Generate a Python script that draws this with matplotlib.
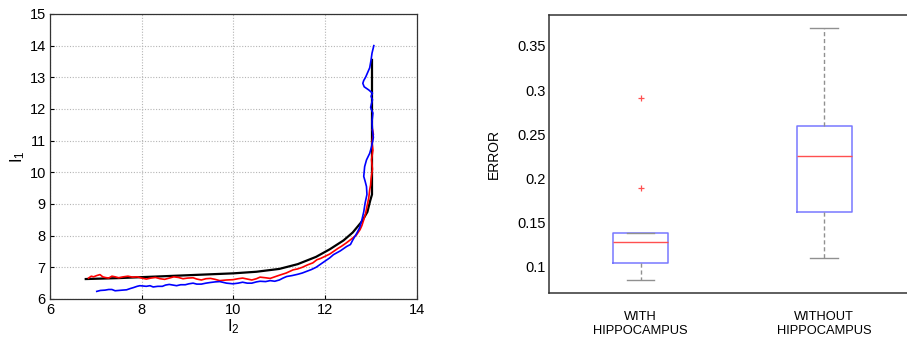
import numpy as np
import matplotlib.pyplot as plt

plt.rcParams['font.family'] = ['Liberation Sans', 'DejaVu Sans']

# trajectories in the (I2, I1) plane
ref_i2 = [6.78, 7.5, 8.0, 8.5, 9.0, 9.5, 10.0, 10.5, 11.0, 11.4, 11.8, 12.1,
          12.4, 12.6, 12.8, 12.92, 12.98, 13.02, 13.02]
ref_i1 = [6.63, 6.66, 6.69, 6.72, 6.75, 6.78, 6.81, 6.86, 6.95, 7.1, 7.33, 7.57,
          7.85, 8.1, 8.45, 8.75, 9.1, 9.3, 13.55]

with_i2 = [6.84, 6.9, 6.95, 7.02, 7.09, 7.15, 7.2, 7.28, 7.35, 7.42, 7.5, 7.6,
           7.7, 7.8, 7.9, 8.0, 8.1, 8.2, 8.3, 8.4, 8.5, 8.6, 8.7, 8.8, 8.9,
           9.0, 9.12, 9.2, 9.3, 9.4, 9.5, 9.6, 9.7, 9.85, 9.99, 10.1, 10.2,
           10.3, 10.4, 10.5, 10.58, 10.7, 10.8, 10.9, 11.0, 11.15, 11.3, 11.4,
           11.5, 11.62, 11.73, 11.82, 11.9, 12.0, 12.1, 12.18, 12.28, 12.35,
           12.45, 12.55, 12.62, 12.68, 12.76, 12.8, 12.84, 12.88, 12.91, 12.95,
           12.97, 12.99, 13.0, 13.03, 13.01, 13.04, 13.02, 13.05, 13.03]
with_i1 = [6.66, 6.72, 6.7, 6.74, 6.77, 6.7, 6.68, 6.66, 6.72, 6.7, 6.67, 6.7,
           6.72, 6.69, 6.7, 6.66, 6.63, 6.66, 6.68, 6.64, 6.62, 6.66, 6.7, 6.68,
           6.64, 6.66, 6.67, 6.63, 6.6, 6.64, 6.65, 6.62, 6.58, 6.6, 6.61, 6.64,
           6.66, 6.63, 6.6, 6.64, 6.69, 6.67, 6.65, 6.7, 6.75, 6.82, 6.92, 6.95,
           7.0, 7.08, 7.14, 7.24, 7.28, 7.35, 7.42, 7.5, 7.6, 7.66, 7.76, 7.87,
           7.95, 8.02, 8.19, 8.32, 8.5, 8.7, 8.92, 9.2, 9.45, 9.6, 9.8, 10.1,
           10.4, 10.7, 10.95, 11.2, 11.35]

free_i2 = [7.02, 7.1, 7.2, 7.28, 7.35, 7.42, 7.5, 7.58, 7.67, 7.75, 7.82, 7.9,
           7.96, 8.03, 8.1, 8.18, 8.25, 8.35, 8.45, 8.52, 8.6, 8.68, 8.76, 8.85,
           8.95, 9.03, 9.12, 9.2, 9.3, 9.4, 9.49, 9.6, 9.7, 9.85, 9.99, 10.1,
           10.2, 10.3, 10.4, 10.5, 10.58, 10.7, 10.8, 10.9, 11.0, 11.08, 11.16,
           11.28, 11.4, 11.5, 11.59, 11.7, 11.8, 11.88, 12.0, 12.1, 12.18,
           12.33, 12.47, 12.55, 12.6, 12.69, 12.75, 12.8, 12.84, 12.87, 12.91,
           12.9, 12.87, 12.84, 12.86, 12.9, 12.97, 13.01, 13.05, 13.03, 13.02,
           13.04, 12.99, 13.03, 13.0, 13.03, 12.95, 12.85, 12.82, 12.84, 12.88,
           12.97, 13.0, 13.02, 13.06]
free_i1 = [6.24, 6.27, 6.28, 6.3, 6.3, 6.26, 6.27, 6.28, 6.29, 6.33, 6.36, 6.4,
           6.42, 6.41, 6.4, 6.42, 6.38, 6.4, 6.4, 6.44, 6.46, 6.44, 6.42, 6.45,
           6.45, 6.48, 6.5, 6.47, 6.47, 6.5, 6.52, 6.54, 6.55, 6.5, 6.48, 6.5,
           6.53, 6.5, 6.5, 6.54, 6.56, 6.55, 6.58, 6.56, 6.6, 6.66, 6.71, 6.74,
           6.78, 6.82, 6.87, 6.93, 7.0, 7.08, 7.2, 7.3, 7.4, 7.52, 7.66, 7.72,
           7.86, 8.08, 8.25, 8.5, 8.75, 9.03, 9.3, 9.55, 9.72, 9.87, 10.18,
           10.39, 10.6, 10.81, 11.1, 11.34, 11.6, 11.87, 12.05, 12.29, 12.4,
           12.5, 12.6, 12.7, 12.81, 12.9, 13.0, 13.3, 13.55, 13.76, 14.0]

# boxplot summaries of the error
groups = ['WITH\nHIPPOCAMPUS', 'WITHOUT\nHIPPOCAMPUS']
whislo = [0.0846, 0.1095]
q1 = [0.1045, 0.162]
med = [0.128, 0.2252]
q3 = [0.1385, 0.2588]
whishi = [0.1385, 0.3697]
fliers = [[0.291, 0.189], []]

fig = plt.figure(figsize=(9.07, 3.43), dpi=100)

ax1 = fig.add_axes([0.0551, 0.1283, 0.4046, 0.831])
ax1.plot(ref_i2, ref_i1, color='black', lw=1.6)
ax1.plot(with_i2, with_i1, color='red', lw=1.2)
ax1.plot(free_i2, free_i1, color='blue', lw=1.2)
ax1.set_xlim(6, 14)
ax1.set_ylim(6, 15)
ax1.set_xticks(np.arange(6, 15, 2))
ax1.set_yticks(np.arange(6, 16, 1))
ax1.grid(True, color='#b5b5b5', linestyle=(0, (1, 1.5)), lw=0.8)
ax1.tick_params(direction='in', length=3, labelsize=10.5, pad=3)
ax1.set_xlabel(r'$\mathregular{I_2}$', fontsize=12, labelpad=0)
ax1.set_ylabel(r'$\mathregular{I_1}$', fontsize=12, labelpad=2)
for s in ax1.spines.values():
    s.set_color('#333333')
    s.set_linewidth(0.9)

ax2 = fig.add_axes([0.6053, 0.1458, 0.4043, 0.8105])
stats = []
for i in range(len(groups)):
    stats.append(dict(whislo=whislo[i], q1=q1[i], med=med[i], q3=q3[i],
                      whishi=whishi[i], fliers=fliers[i]))
ax2.bxp(stats, positions=[1, 2], widths=0.3, showcaps=True,
        boxprops=dict(color='#7878ff', lw=1.1),
        medianprops=dict(color='#ff5050', lw=1.0),
        whiskerprops=dict(color='#909090', lw=1.0, linestyle=(0, (3, 2))),
        capprops=dict(color='#909090', lw=1.0),
        flierprops=dict(marker='+', markeredgecolor='#ff5050', markersize=5,
                        markeredgewidth=0.9))
ax2.set_xlim(0.5, 2.5)
ax2.set_ylim(0.07, 0.385)
ax2.set_yticks([0.1, 0.15, 0.2, 0.25, 0.3, 0.35])
ax2.set_yticklabels(['0.1', '0.15', '0.2', '0.25', '0.3', '0.35'])
ax2.set_xticks([1, 2])
ax2.set_xticklabels(groups, fontsize=9.3, linespacing=1.25)
ax2.tick_params(axis='y', length=0, labelsize=10.5, pad=2)
ax2.tick_params(axis='x', length=0, pad=13)
ax2.set_ylabel('ERROR', fontsize=10, labelpad=12)
for s in ax2.spines.values():
    s.set_color('#333333')
    s.set_linewidth(1.1)

fig.savefig('out.png', dpi=100)
